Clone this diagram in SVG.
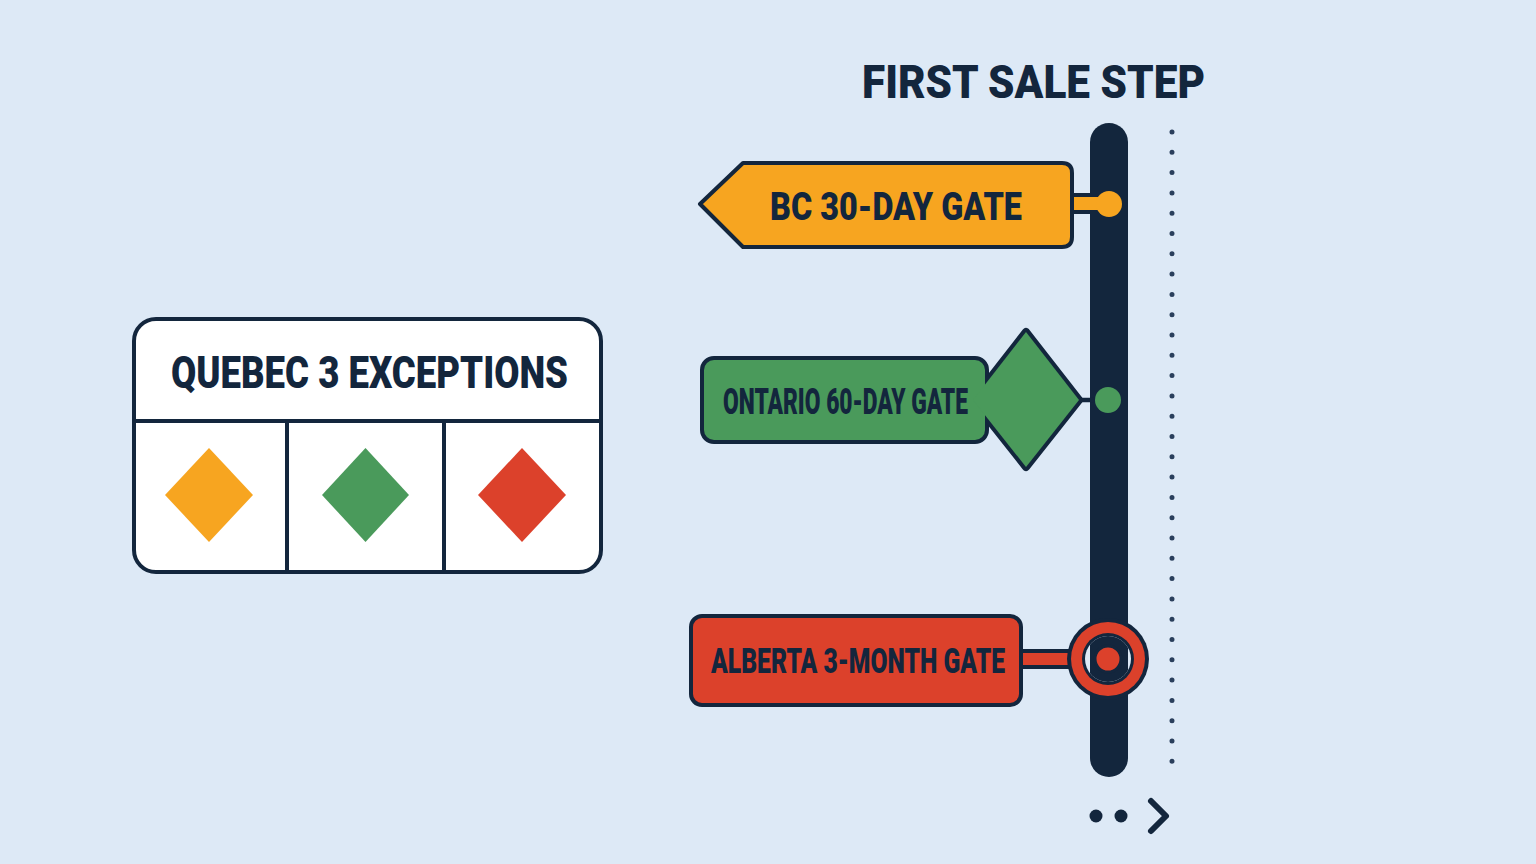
<svg xmlns="http://www.w3.org/2000/svg" width="1536" height="864" viewBox="0 0 1536 864">
  <defs>
    <style>
      .lbl { font-family: Roboto, "Liberation Sans", sans-serif; font-weight: 900; fill: #13263d; }
      .ol { stroke: #13263d; stroke-width: 4; stroke-linejoin: round; }
      .ol8 { stroke: #13263d; stroke-width: 8; stroke-linejoin: round; }
      .org { fill: #f7a520; }
      .grn { fill: #4a9a5b; }
      .red { fill: #dc412b; }
      .drk { fill: #13263d; }
    </style>
    <clipPath id="ringClip"><circle cx="1108" cy="659" r="23"/></clipPath>
  </defs>
  <rect width="1536" height="864" fill="#dde9f6"/>

  <!-- title -->
  <text class="lbl" x="862" y="98" font-size="46" textLength="343" lengthAdjust="spacingAndGlyphs">FIRST SALE STEP</text>

  <!-- timeline -->
  <g id="timeline">
    <line x1="1172" y1="132" x2="1172" y2="766" stroke="#2a3f5c" stroke-width="5" stroke-linecap="round" stroke-dasharray="0 20.3"/>
    <rect x="1090" y="123" width="38" height="654" rx="19" class="drk"/>
  </g>

  <!-- connectors -->
  <g id="connectors">
    <rect x="1066" y="195" width="36" height="17" class="org ol"/>
    <line x1="1076" y1="400" x2="1098" y2="400" stroke="#13263d" stroke-width="4.5"/>
    <rect x="1016" y="651" width="56" height="16" class="red ol"/>
  </g>

  <!-- BC -->
  <g id="bc">
    <path d="M700 204 L743 163 L1062 163 Q1072 163 1072 173 L1072 237 Q1072 247 1062 247 L743 247 Z" class="org ol"/>
    <circle cx="1109" cy="204" r="13" class="org"/>
    <text class="lbl" x="770" y="220" font-size="38" textLength="252" lengthAdjust="spacingAndGlyphs">BC 30-DAY GATE</text>
  </g>

  <!-- Ontario -->
  <g id="ontario">
    <rect x="704" y="360" width="281" height="80" rx="10" class="grn ol8"/>
    <path d="M1026 332 L1079 400 L1026 467 L973 400 Z" class="grn ol8"/>
    <rect x="704" y="360" width="281" height="80" rx="10" class="grn"/>
    <path d="M1026 332 L1079 400 L1026 467 L973 400 Z" class="grn"/>
    <circle cx="1108" cy="400" r="13" class="grn"/>
    <text class="lbl" x="723" y="414" font-size="36" textLength="245" lengthAdjust="spacingAndGlyphs">ONTARIO 60-DAY GATE</text>
  </g>

  <!-- Alberta -->
  <g id="alberta">
    <rect x="691" y="616" width="330" height="89" rx="11" class="red ol"/>
    <circle cx="1108" cy="659" r="41" class="drk"/>
    <circle cx="1108" cy="659" r="37" class="red"/>
    <circle cx="1108" cy="659" r="26" class="drk"/>
    <circle cx="1108" cy="659" r="23" fill="#dde9f6"/>
    <rect x="1090" y="630" width="38" height="60" class="drk" clip-path="url(#ringClip)"/>
    <circle cx="1108" cy="659" r="13" class="red" stroke="#13263d" stroke-width="3"/>
    <text class="lbl" x="711" y="673" font-size="35" textLength="294" lengthAdjust="spacingAndGlyphs">ALBERTA 3-MONTH GATE</text>
  </g>

  <!-- Quebec -->
  <g id="quebec">
    <rect x="134" y="319" width="467" height="253" rx="22" fill="#ffffff" class="ol"/>
    <line x1="134" y1="421" x2="601" y2="421" class="ol"/>
    <line x1="287" y1="421" x2="287" y2="572" class="ol"/>
    <line x1="444" y1="421" x2="444" y2="572" class="ol"/>
    <text class="lbl" x="171" y="388" font-size="44" textLength="397" lengthAdjust="spacingAndGlyphs">QUEBEC 3 EXCEPTIONS</text>
    <path d="M209 448 L253 495 L209 542 L165 495 Z" class="org"/>
    <path d="M365.5 448 L409 495 L365.5 542 L322 495 Z" class="grn"/>
    <path d="M522 448 L566 495 L522 542 L478 495 Z" class="red"/>
  </g>

  <!-- continuation -->
  <g id="more">
    <circle cx="1096" cy="816" r="6.5" class="drk"/>
    <circle cx="1121" cy="816" r="6.5" class="drk"/>
    <path d="M1151 801 L1166 816 L1151 831" fill="none" stroke="#13263d" stroke-width="6" stroke-linecap="round" stroke-linejoin="round"/>
  </g>
</svg>
